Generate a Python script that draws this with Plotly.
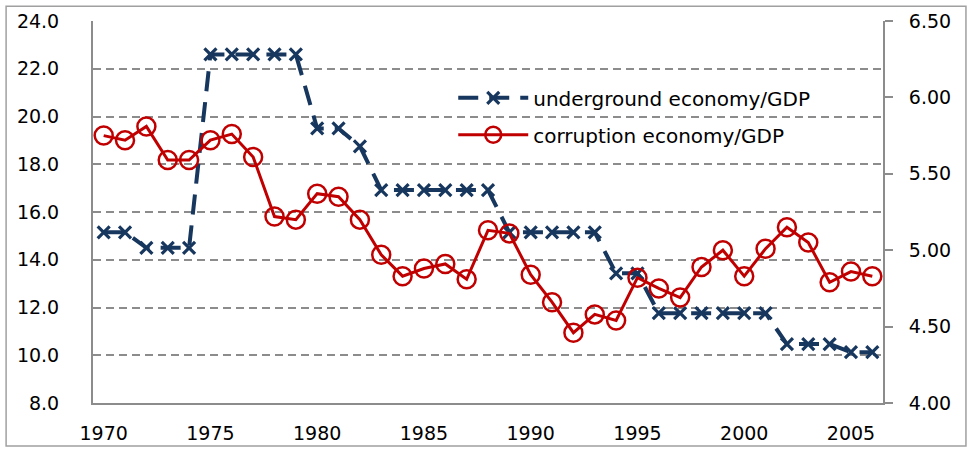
import plotly.graph_objects as go

years = list(range(1970, 2007))
underground = [15.15, 15.15, 14.5, 14.5, 14.5, 22.6, 22.6, 22.6, 22.6, 22.6,
               19.5, 19.5, 18.75, 16.92, 16.92, 16.92, 16.92, 16.92, 16.92,
               15.15, 15.15, 15.15, 15.15, 15.15, 13.43, 13.43, 11.76, 11.76,
               11.76, 11.76, 11.76, 11.76, 10.47, 10.47, 10.47, 10.13, 10.13]
corruption = [5.75, 5.72, 5.81, 5.59, 5.59, 5.72, 5.76, 5.61, 5.22, 5.20,
              5.37, 5.35, 5.20, 4.97, 4.83, 4.88, 4.91, 4.81, 5.13, 5.11,
              4.84, 4.66, 4.46, 4.58, 4.54, 4.82, 4.75, 4.69, 4.89, 5.00,
              4.83, 5.01, 5.15, 5.05, 4.79, 4.86, 4.83]
x_ticks = [1970, 1975, 1980, 1985, 1990, 1995, 2000, 2005]
left_ticks = [8, 10, 12, 14, 16, 18, 20, 22, 24]
right_ticks = [4.0, 4.5, 5.0, 5.5, 6.0, 6.5]

NAVY = "#17375E"
RED = "#C00000"
GRID = "#8C8C8C"
FONT = "DejaVu Sans"

fig = go.Figure()
fig.add_trace(go.Scatter(
    x=years, y=underground, name="underground economy/GDP",
    mode="lines+markers", legendgroup="a",
    line=dict(color=NAVY, width=4, dash="20px,11px"),
    marker=dict(symbol="x-thin", size=12, color=NAVY,
                line=dict(color=NAVY, width=3.2)),
))
fig.add_trace(go.Scatter(
    x=years, y=corruption, name="corruption economy/GDP", yaxis="y2",
    mode="lines+markers", legendgroup="b",
    line=dict(color=RED, width=3),
    marker=dict(symbol="circle-open", size=18, color=RED,
                line=dict(color=RED, width=2.5)),
))

fig.update_layout(
    width=969, height=449,
    margin=dict(l=93, r=86, t=21, b=46, autoexpand=False),
    paper_bgcolor="white", plot_bgcolor="white",
    font=dict(family=FONT, size=19, color="#000000"),
    showlegend=True,
    legend=dict(x=0.456, y=0.850, xanchor="left", yanchor="top",
                bgcolor="rgba(0,0,0,0)", font=dict(family=FONT, size=20),
                itemwidth=70, traceorder="grouped", tracegroupgap=8),
    xaxis=dict(range=[1969.5, 2006.5], tickvals=x_ticks, automargin=False,
               showgrid=False, zeroline=False, showline=True,
               linecolor=GRID, linewidth=2, ticks="",
               ticklabelstandoff=12),
    yaxis=dict(range=[8, 24], tickvals=left_ticks, tickformat=".1f",
               automargin=False,
               showgrid=True, gridcolor=GRID, gridwidth=1.5,
               griddash="8px,5px", zeroline=False, showline=True,
               linecolor=GRID, linewidth=2, ticks="",
               ticklabelstandoff=28),
    yaxis2=dict(range=[4, 6.5], tickvals=right_ticks, tickformat=".2f",
                automargin=False,
                overlaying="y", side="right", showgrid=False,
                zeroline=False, showline=True, linecolor=GRID, linewidth=2,
                ticks="outside", ticklen=8, tickwidth=2, tickcolor=GRID,
                ticklabelstandoff=12),
    shapes=[dict(type="rect", xref="paper", yref="paper",
                 x0=-0.110, x1=1.105, y0=-0.1125, y1=1.0385,
                 line=dict(color="#A0A0A0", width=1.5), layer="below")],
)

fig.write_html("out.html",
               config={"displayModeBar": False},
               post_script="document.body.style.margin='0';"
                           "document.body.style.overflow='hidden';")
